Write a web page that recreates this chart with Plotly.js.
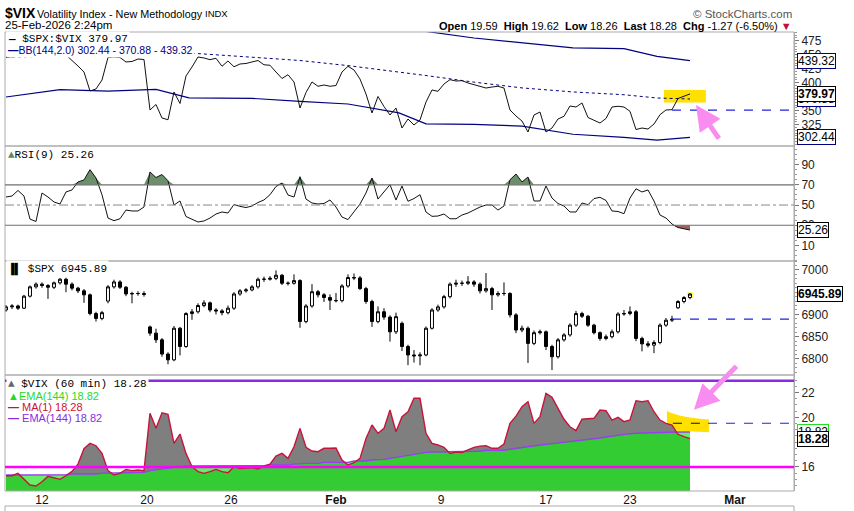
<!DOCTYPE html>
<html><head><meta charset="utf-8">
<script src="https://cdn.plot.ly/plotly-3.0.1.min.js"></script>
<style>html,body{margin:0;padding:0;background:#fff;}#chart{width:854px;height:511px;}</style>
</head><body><div id="chart"></div>
<script>
// x axis: trading hours since Jan 12 open (7 trading hours per day), 2-hour bars
const xTickVals = [0, 35, 63, 98, 133, 168, 196, 231];
const xTickText = ['12', '20', '26', '<b>Feb</b>', '9', '17', '23', '<b>Mar</b>'];

// $SPX:$VIX ratio
const ratio = [
 445, 445.9, 449.5, 462, 478, 481, 470, 457, 461, 465,
 449.5, 440.5, 429.8, 419.1, 385.2, 388.8, 404.8, 445, 445.9, 445,
 437, 437.9, 442.3, 441.4, 351.3, 361.1, 337, 333.9, 383.4, 362.9,
 412, 428, 445.9, 444.1, 441.1, 443.6, 429.3, 438.8, 428.4, 433.4,
 434.3, 437, 439.6, 432, 431.1, 419.1, 407.5, 414.3, 401.3, 354.8,
 382.5, 401.3, 393.6, 395.9, 393.6, 395, 419.1, 429.3, 422.7, 406.6,
 379.8, 345.9, 375.4, 357.5, 342.3, 354.8, 319.1, 335.2, 324.5, 333.4,
 365.5, 387, 384.6, 397.7, 405.4, 403, 403.6, 399.5, 396.8, 393.2,
 390.5, 392.3, 393.6, 390.5, 351.3, 340.5, 331.6, 312, 342.3, 347.7,
 312, 319.1, 335.2, 340, 358.4, 356.6, 363.8, 337.9, 332.5, 328,
 336.1, 356.6, 357.9, 356.6, 348.9, 316.4, 319.1, 317.3, 326.2, 342.9,
 351.3, 351.8, 371.8, 375.4, 379.97];

// Bollinger bands (144, 2.0) on the ratio
const bbHours  = [-12, 6, 22, 38, 49, 70, 86, 102, 119, 128, 144, 160, 177, 194, 205, 216];
const bbLower  = [374.5, 387.5, 385, 388, 373, 372, 366.8, 362, 346, 326.5, 325.5, 322.5, 308, 302.5, 297.5, 302.44];
const bbMiddle = [445.4, 447.7, 449.3, 451.5, 453, 445.5, 439.6, 430.5, 419.3, 412.8, 401, 390.7, 383.5, 378.5, 372.7, 370.88];
const bbUpper  = [516, 508, 513, 515, 533, 519, 512.4, 499, 493.5, 491.5, 479.8, 470.9, 462, 460.7, 447.1, 439.32];

// RSI(9)
const rsi = [
 57.9, 58.9, 64.4, 58.9, 36.1, 33.7, 61.9, 57.9, 53, 51,
 62.9, 64.9, 72.8, 74.8, 85, 76.7, 60.2, 37.1, 34.5, 36.4,
 45, 44.1, 44.1, 48, 82.7, 77.2, 80.2, 74, 50, 54,
 38.6, 36.1, 33.2, 34.2, 37.1, 41.1, 43.1, 42.1, 50.5, 48.7,
 47.5, 49, 52.5, 55, 60.2, 68.3, 71.8, 59.9, 57.9, 78,
 55.9, 52, 51, 51.5, 55, 48, 38.1, 35.6, 43.1, 51,
 61.9, 76.7, 55.9, 62.9, 70.1, 54.9, 68.8, 53.7, 56.4, 60.2,
 43.1, 38.8, 39.1, 41.1, 36.4, 36.4, 40.1, 42.1, 45, 48,
 50, 50, 45, 49, 75, 80.7, 72.8, 77.7, 54, 54,
 68.8, 56.9, 51.5, 49, 43.1, 43.1, 52, 50.3, 56.4, 57.6,
 54.5, 44.1, 43.6, 41.4, 56.9, 66.1, 62.9, 64.9, 54, 40.1,
 37.1, 31.2, 27.7, 26.2, 25.26];

// $SPX candles
const spxOpen = [
 6910, 6917, 6919, 6914, 6941, 6962, 6968, 6965, 6961, 6971,
 6979, 6968, 6959, 6953, 6944, 6902, 6891, 6930, 6962, 6973,
 6961, 6946, 6947, 6947, 6872, 6858, 6843, 6811, 6798, 6869,
 6828, 6902, 6906, 6920, 6926, 6910, 6908, 6904, 6914, 6946,
 6953, 6955, 6962, 6979, 6979, 6981, 6988, 6970, 6970, 6976,
 6884, 6919, 6951, 6944, 6938, 6931, 6931, 6964, 6983, 6982,
 6958, 6929, 6884, 6906, 6894, 6861, 6880, 6828, 6809, 6807,
 6809, 6869, 6910, 6917, 6940, 6968, 6970, 6970, 6973, 6968,
 6953, 6958, 6944, 6947, 6947, 6899, 6865, 6869, 6835, 6859,
 6861, 6828, 6805, 6843, 6854, 6876, 6902, 6896, 6876, 6859,
 6846, 6850, 6861, 6901, 6902, 6906, 6846, 6834, 6831, 6837,
 6876, 6887, 6915, 6929, 6938];
const spxHigh = [
 6921, 6923, 6922, 6944, 6965, 6972, 6972, 6968, 6974, 6982,
 6983, 6972, 6962, 6957, 6947, 6906, 6908, 6966, 6978, 6977,
 6964, 6951, 6952, 6952, 6875, 6868, 6847, 6815, 6874, 6872,
 6905, 6912, 6925, 6932, 6929, 6914, 6912, 6920, 6950, 6957,
 6959, 6966, 6983, 6985, 6986, 6999, 6991, 6974, 6990, 6979,
 6923, 6968, 6955, 6948, 6945, 6948, 6968, 6990, 6992, 6986,
 6962, 6933, 6918, 6914, 6898, 6904, 6884, 6832, 6820, 6815,
 6873, 6914, 6922, 6944, 6972, 6978, 6976, 6986, 6977, 6972,
 6993, 6962, 6952, 6972, 6950, 6903, 6875, 6873, 6864, 6866,
 6864, 6832, 6847, 6858, 6880, 6908, 6906, 6899, 6879, 6862,
 6855, 6866, 6905, 6910, 6918, 6910, 6850, 6840, 6842, 6880,
 6892, 6897, 6932, 6941, 6948];
const spxLow = [
 6906, 6912, 6910, 6912, 6938, 6958, 6960, 6935, 6957, 6967,
 6950, 6954, 6948, 6926, 6898, 6884, 6887, 6925, 6958, 6957,
 6941, 6925, 6942, 6940, 6852, 6836, 6805, 6788, 6795, 6808,
 6825, 6888, 6902, 6916, 6905, 6900, 6898, 6900, 6910, 6942,
 6949, 6952, 6958, 6973, 6976, 6977, 6966, 6965, 6967, 6870,
 6880, 6915, 6938, 6928, 6910, 6927, 6927, 6960, 6977, 6955,
 6924, 6872, 6880, 6888, 6839, 6856, 6818, 6786, 6792, 6786,
 6806, 6866, 6906, 6913, 6936, 6962, 6964, 6966, 6962, 6947,
 6949, 6910, 6940, 6942, 6893, 6858, 6860, 6791, 6831, 6855,
 6820, 6775, 6801, 6839, 6850, 6872, 6892, 6872, 6855, 6841,
 6842, 6846, 6857, 6897, 6898, 6840, 6817, 6826, 6813, 6833,
 6872, 6883, 6912, 6925, 6934];
const spxClose = [
 6917, 6919, 6914, 6941, 6962, 6968, 6965, 6961, 6971, 6979,
 6968, 6959, 6953, 6944, 6902, 6891, 6904, 6962, 6973, 6961,
 6946, 6947, 6947, 6945, 6858, 6843, 6811, 6798, 6869, 6828,
 6902, 6906, 6920, 6926, 6910, 6908, 6904, 6914, 6946, 6953,
 6955, 6962, 6979, 6979, 6981, 6988, 6970, 6970, 6976, 6884,
 6919, 6951, 6944, 6938, 6932, 6931, 6964, 6983, 6982, 6958,
 6929, 6884, 6906, 6894, 6861, 6895, 6828, 6809, 6807, 6809,
 6869, 6910, 6917, 6940, 6968, 6970, 6970, 6973, 6968, 6953,
 6958, 6944, 6947, 6947, 6899, 6865, 6869, 6835, 6859, 6861,
 6828, 6805, 6843, 6854, 6876, 6902, 6896, 6876, 6859, 6846,
 6850, 6861, 6901, 6902, 6906, 6846, 6834, 6831, 6837, 6876,
 6887, 6889, 6929, 6938, 6945.89];

// $VIX (60 min) and EMA(144)
const vix = [
 15.29, 15.29, 15.48, 15.02, 14.54, 14.46, 14.81, 15.24, 15.13, 15.00,
 15.29, 15.64, 16.23, 17.47, 17.90, 17.71, 17.09, 15.70, 15.35, 15.48,
 15.80, 15.70, 15.75, 15.70, 20.32, 19.11, 20.37, 20.24, 17.90, 18.65,
 17.09, 16.02, 15.62, 15.48, 15.62, 15.80, 15.62, 15.53, 16.02, 15.88,
 15.91, 15.94, 15.83, 16.07, 16.23, 16.88, 17.09, 16.69, 17.63, 19.11,
 17.58, 17.28, 17.23, 17.50, 17.50, 17.52, 16.56, 16.15, 16.34, 16.69,
 18.30, 19.38, 18.71, 19.11, 20.59, 18.84, 20.05, 20.45, 21.53, 21.53,
 18.71, 17.90, 17.77, 17.58, 17.09, 17.20, 17.17, 17.36, 17.58, 17.68,
 17.71, 17.50, 17.50, 17.85, 19.51, 20.10, 20.86, 21.26, 19.51, 20.05,
 21.93, 21.61, 20.75, 19.84, 19.24, 18.92, 19.84, 19.89, 19.92, 20.59,
 20.53, 19.78, 20.00, 19.65, 19.78, 21.34, 21.26, 21.34, 20.45, 19.78,
 19.51, 19.38, 18.63, 18.44, 18.28];
const vixEma = [
 15.35, 15.35, 15.35, 15.35, 15.35, 15.35, 15.37, 15.37, 15.37, 15.37,
 15.37, 15.43, 15.43, 15.43, 15.43, 15.43, 15.50, 15.50, 15.50, 15.50,
 15.50, 15.50, 15.50, 15.56, 15.70, 15.75, 15.83, 15.91, 15.96, 16.02,
 16.07, 16.07, 16.07, 16.07, 16.07, 16.07, 16.07, 16.07, 16.10, 16.10,
 16.10, 16.10, 16.10, 16.10, 16.15, 16.15, 16.15, 16.15, 16.23, 16.29,
 16.29, 16.29, 16.29, 16.37, 16.37, 16.37, 16.37, 16.37, 16.48, 16.48,
 16.48, 16.56, 16.56, 16.61, 16.69, 16.77, 16.88, 16.96, 17.04, 17.12,
 17.17, 17.20, 17.20, 17.20, 17.20, 17.20, 17.26, 17.26, 17.26, 17.26,
 17.34, 17.34, 17.34, 17.34, 17.42, 17.50, 17.58, 17.66, 17.71, 17.77,
 17.82, 17.87, 17.93, 17.98, 18.03, 18.09, 18.14, 18.19, 18.25, 18.33,
 18.41, 18.49, 18.57, 18.63, 18.68, 18.71, 18.73, 18.76, 18.78, 18.79,
 18.80, 18.80, 18.81, 18.81, 18.82];

// previous-close levels (dashed lines)
const prevClose = {ratio: 351, spx: 6889.5, vix: 19.52};
// horizontal reference levels in VIX panel
const vixLevels = {magenta: 16, purple: 22.95};

const hours = vix.map((_, i) => 2 * i - 12);

const PX = x => (x - 5) / 789;
const PY = y => (491 - y) / 459;
const XR = [-12.33, 250.67];

const NAVY = '#000080';
const traces = [
  {x: bbHours, y: bbUpper, yaxis: 'y', mode: 'lines', line: {color: NAVY, width: 1.2}, hoverinfo: 'skip'},
  {x: bbHours, y: bbLower, yaxis: 'y', mode: 'lines', line: {color: NAVY, width: 1.2}, hoverinfo: 'skip'},
  {x: bbHours, y: bbMiddle, yaxis: 'y', mode: 'lines', line: {color: NAVY, width: 1, dash: 'dot'}, hoverinfo: 'skip'},
  {x: hours, y: ratio, yaxis: 'y', mode: 'lines', line: {color: '#111', width: 1}},

  {x: hours, y: rsi.map(() => 70), yaxis: 'y2', mode: 'lines', line: {width: 0}, hoverinfo: 'skip'},
  {x: hours, y: rsi.map(v => Math.max(v, 70)), yaxis: 'y2', mode: 'lines', line: {width: 0}, fill: 'tonexty', fillcolor: '#6b8f6b', hoverinfo: 'skip'},
  {x: hours, y: rsi.map(() => 30), yaxis: 'y2', mode: 'lines', line: {width: 0}, hoverinfo: 'skip'},
  {x: hours, y: rsi.map(v => Math.min(v, 30)), yaxis: 'y2', mode: 'lines', line: {width: 0}, fill: 'tonexty', fillcolor: '#a0605e', hoverinfo: 'skip'},
  {x: hours, y: rsi, yaxis: 'y2', mode: 'lines', line: {color: '#111', width: 1}},

  {type: 'candlestick', x: hours, open: spxOpen, high: spxHigh, low: spxLow, close: spxClose, yaxis: 'y3',
   increasing: {line: {color: '#000', width: 1}, fillcolor: '#ffffff'},
   decreasing: {line: {color: '#000', width: 1}, fillcolor: '#000000'}, whiskerwidth: 0},

  {x: hours, y: vixEma, yaxis: 'y4', mode: 'lines', line: {width: 0}, fill: 'tozeroy', fillcolor: '#66f066', hoverinfo: 'skip'},
  {x: hours, y: vix, yaxis: 'y4', mode: 'lines', line: {width: 0}, fill: 'tozeroy', fillcolor: '#7f7f7f', hoverinfo: 'skip'},
  {x: hours, y: vix.map((v, i) => Math.min(v, vixEma[i])), yaxis: 'y4', mode: 'lines', line: {width: 0}, fill: 'tozeroy', fillcolor: '#33cc33', hoverinfo: 'skip'},
  {x: hours, y: vixEma, yaxis: 'y4', mode: 'lines', line: {color: '#9a3cf0', width: 1.4}},
  {x: hours, y: vix, yaxis: 'y4', mode: 'lines', line: {color: '#c8143c', width: 1.4}}
];

const tickFont = {family: 'Liberation Sans, Arial, sans-serif', size: 12, color: '#222'};
function yax(domain, range, tickvals, dmin) {
  return {domain, range, tickvals, side: 'right', anchor: 'x', showgrid: false, zeroline: false,
    ticks: 'outside', ticklen: 4, tickcolor: '#777', showline: true, linecolor: '#aaa', linewidth: 1,
    tickfont: tickFont, fixedrange: true,
    minor: {ticks: 'outside', ticklen: 2, tickcolor: '#999', dtick: dmin}};
}

const D1 = [PY(146), 1], D2 = [PY(261), PY(146)], D3 = [PY(375), PY(261)], D4 = [0, PY(375)];

const shapes = [];
[D1, D2, D3, D4].forEach(d => shapes.push({type: 'rect', xref: 'paper', yref: 'paper', x0: 0, x1: 1, y0: d[0], y1: d[1], line: {color: '#ababab', width: 1}}));
// bottom (cut-off) panel
shapes.push({type: 'line', xref: 'paper', yref: 'paper', x0: 0, x1: 1, y0: PY(506), y1: PY(506), line: {color: '#ababab', width: 1}});
shapes.push({type: 'line', xref: 'paper', yref: 'paper', x0: 0, x1: 0, y0: PY(506), y1: PY(515), line: {color: '#ababab', width: 1}});
shapes.push({type: 'line', xref: 'paper', yref: 'paper', x0: 1, x1: 1, y0: PY(506), y1: PY(515), line: {color: '#ababab', width: 1}});
// RSI levels
[70, 30].forEach(v => shapes.push({type: 'line', xref: 'paper', yref: 'y2', x0: 0, x1: 1, y0: v, y1: v, line: {color: '#6f6f6f', width: 1.2}}));
shapes.push({type: 'line', xref: 'paper', yref: 'y2', x0: 0, x1: 1, y0: 50, y1: 50, line: {color: '#888', width: 1, dash: 'dashdot'}});
// VIX levels
shapes.push({type: 'line', xref: 'paper', yref: 'y4', x0: 0, x1: 1, y0: vixLevels.magenta, y1: vixLevels.magenta, line: {color: '#ff00ff', width: 2.4}});
shapes.push({type: 'line', xref: 'paper', yref: 'y4', x0: 0, x1: 1, y0: vixLevels.purple, y1: vixLevels.purple, line: {color: '#8a2be2', width: 2.4}});
// yellow highlights
shapes.push({type: 'rect', xref: 'x', yref: 'y', x0: 207.3, x1: 221.3, y0: 364.5, y1: 387, fillcolor: '#ffe000', line: {width: 0}, layer: 'below'});
shapes.push({type: 'path', xref: 'x', yref: 'y4', path: 'M 208.3 20.5 Q 213 19.95 222.3 19.82 L 222.3 18.8 L 208.3 18.95 Z', fillcolor: '#ffe000', line: {width: 0}, layer: 'below'});
shapes.push({type: 'rect', xref: 'x', yref: 'y3', x0: 215, x1: 217, y0: 6937, y1: 6950, fillcolor: '#ffff60', line: {width: 0}, layer: 'below'});
// previous close dashed lines
shapes.push({type: 'line', xref: 'x', yref: 'y', x0: 210, x1: XR[1], y0: prevClose.ratio, y1: prevClose.ratio, line: {color: '#2222dd', width: 1.2, dash: 'dash'}});
shapes.push({type: 'line', xref: 'x', yref: 'y3', x0: 210, x1: XR[1], y0: prevClose.spx, y1: prevClose.spx, line: {color: '#2222dd', width: 1.2, dash: 'dash'}});
shapes.push({type: 'line', xref: 'x', yref: 'y4', x0: 210.3, x1: 222, y0: prevClose.vix, y1: prevClose.vix, line: {color: '#111', width: 1.2, dash: 'dash'}});
shapes.push({type: 'line', xref: 'x', yref: 'y4', x0: 222, x1: XR[1], y0: prevClose.vix, y1: prevClose.vix, line: {color: '#2222dd', width: 1.2, dash: 'dash'}});

const SANS = 'Liberation Sans, Arial, sans-serif';
const MONO = 'Liberation Mono, DejaVu Sans Mono, monospace';
function txt(x, y, text, size, color, family, anchor, extra) {
  return Object.assign({xref: 'paper', yref: 'paper', x: PX(x), y: PY(y), text, showarrow: false,
    xanchor: anchor || 'left', yanchor: 'middle', font: {size, color: color || '#000', family: family || SANS}}, extra || {});
}
function tag(yref, v, text, color, bold) {
  return {xref: 'paper', yref, x: 1, y: v, xanchor: 'left', yanchor: 'middle', xshift: 3, showarrow: false,
    text: bold ? '<b>' + text + '</b>' : text, font: {size: 12, family: SANS, color: '#000'},
    bordercolor: color, borderwidth: 1, borderpad: 0, bgcolor: '#fff'};
}

const annotations = [
  txt(3, 13, '<b>$VIX</b>', 14),
  txt(35, 13.5, 'Volatility Index - New Methodology', 10.8),
  txt(203, 14, 'INDX', 9.5),
  txt(3, 25.5, '25-Feb-2026 2:24pm', 11.5),
  txt(794, 14, '\u00a9 StockCharts.com', 11.5, '#555', SANS, 'right'),
  txt(794, 26, '<b>Open</b> 19.59  <b>High</b> 19.62  <b>Low</b> 18.26  <b>Last</b> 18.28  <b>Chg</b> -1.27 (-6.50%) <span style="color:#c0103c">\u25BC</span>', 11, '#000', SANS, 'right'),

  txt(6, 38.5, '<b>\u2014</b> $SPX:$VIX 379.97', 11, '#000', MONO, 'left', {bgcolor: '#fff'}),
  txt(6, 50, '<b>\u2014</b>BB(144,2.0) 302.44 - 370.88 - 439.32', 10.5, NAVY, SANS, 'left', {bgcolor: '#fff'}),
  txt(6, 155, '<span style="color:#5d8a5d">\u25B2</span>RSI(9) 25.26', 11, '#000', MONO),
  txt(6, 268.5, '\u2590\u258C $SPX 6945.89', 11, '#000', MONO, 'left', {bgcolor: '#fff'}),
  txt(6, 384.5, '<span style="color:#666">\u25B2</span> $VIX (60 min) 18.28', 11, '#000', MONO, 'left', {bgcolor: '#fff'}),
  txt(6, 395.5, '\u25B2EMA(144) 18.82', 11, '#22dd22', SANS),
  txt(6, 406.5, '<b>\u2014</b> MA(1) 18.28', 11, '#cc1133', SANS),
  txt(6, 417.5, '<b>\u2014</b> EMA(144) 18.82', 11, '#8a2be2', SANS),

  tag('y', 439.32, '439.32', NAVY, false),
  tag('y', 370.88, '370.88', NAVY, false),
  tag('y', 379.97, '379.97', '#000', true),
  tag('y', 302.44, '302.44', NAVY, false),
  tag('y2', 25.26, '25.26', '#000', false),
  tag('y3', 6945.89, '6945.89', '#000', true),
  tag('y4', 18.82, '18.82', '#22dd22', false),
  tag('y4', 18.28, '18.28', '#000', true),

  {xref: 'x', yref: 'y', x: 218, y: 360, ax: 24, ay: 35, text: '', showarrow: true, arrowhead: 2, arrowsize: 1, arrowwidth: 5, arrowcolor: '#f98cf0', standoff: 0},
  {xref: 'x', yref: 'y4', x: 217.3, y: 20.6, ax: 44, ay: -45, text: '', showarrow: true, arrowhead: 2, arrowsize: 1, arrowwidth: 5, arrowcolor: '#f98cf0', standoff: 0}
];

const layout = {
  width: 854, height: 511, margin: {l: 5, r: 60, t: 32, b: 20},
  paper_bgcolor: '#fff', plot_bgcolor: 'rgba(0,0,0,0)', showlegend: false,
  font: {family: SANS, size: 12, color: '#000'},
  xaxis: {range: XR, anchor: 'y4', tickvals: xTickVals, ticktext: xTickText, showgrid: false, zeroline: false,
    ticks: '', showline: false, tickfont: {family: SANS, size: 12, color: '#111'}, rangeslider: {visible: false}, fixedrange: true},
  yaxis: yax(D1, [287, 490.5], [325, 350, 400, 425, 450, 475], 5),
  yaxis2: yax(D2, [-5.4, 108.4], [10, 30, 50, 70, 90], 5),
  yaxis3: yax(D3, [6764, 7020], [6800, 6850, 6900, 7000], 10),
  yaxis4: yax(D4, [14.06, 23.41], [16, 20, 22], 0.5),
  shapes, annotations
};

Plotly.newPlot('chart', traces, layout, {displayModeBar: false, staticPlot: true});
</script>
</body></html>
